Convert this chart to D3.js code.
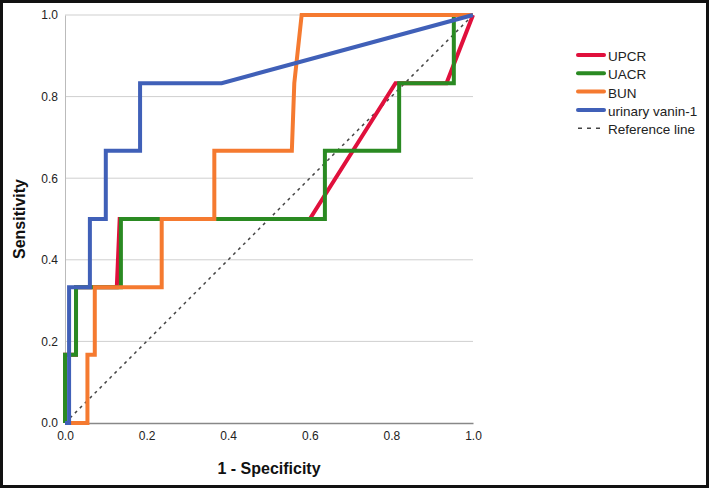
<!DOCTYPE html>
<html><head><meta charset="utf-8">
<script src="https://cdn.jsdelivr.net/npm/d3@7"></script>
<style>body{margin:0;background:#fff;}svg{display:block;font-family:"Liberation Sans",Arial,sans-serif;}</style>
</head><body>
<svg id="chart" width="709" height="488"></svg>
<script>
const seriesNames = ["UPCR", "UACR", "BUN", "urinary vanin-1"];
const seriesColors = ["#e0103c", "#2a8a22", "#f57a30", "#4060b8"];
const upcr = [[0,0],[0,0.167],[0.027,0.167],[0.027,0.333],[0.127,0.333],[0.134,0.5],[0.6,0.5],[0.81,0.833],[0.935,0.833],[1,1]];
const uacr = [[0,0],[0,0.167],[0.027,0.167],[0.027,0.333],[0.137,0.333],[0.137,0.5],[0.637,0.5],[0.637,0.667],[0.819,0.667],[0.819,0.833],[0.953,0.833],[0.953,1],[1,1]];
const bun = [[0,0],[0.055,0],[0.055,0.167],[0.073,0.167],[0.073,0.333],[0.237,0.333],[0.237,0.5],[0.366,0.5],[0.366,0.667],[0.556,0.667],[0.562,0.833],[0.58,1],[1,1]];
const vanin = [[0,0],[0.01,0],[0.01,0.333],[0.061,0.333],[0.061,0.5],[0.1,0.5],[0.1,0.667],[0.184,0.667],[0.184,0.833],[0.384,0.833],[1,1]];
const referenceLine = [[0,0],[1,1]];
const tickValues = [0, 0.2, 0.4, 0.6, 0.8, 1.0];
const tickLabels = ["0.0","0.2","0.4","0.6","0.8","1.0"];
const xTitle = "1 - Specificity";
const yTitle = "Sensitivity";
const refName = "Reference line";

const svg = d3.select("#chart");
const m = {left:65, top:15, right:473, bottom:423};
const x = d3.scaleLinear().domain([0,1]).range([m.left, m.right]);
const y = d3.scaleLinear().domain([0,1]).range([m.bottom, m.top]);

// outer border
svg.append("rect").attr("x",1.5).attr("y",1.5).attr("width",706).attr("height",485)
  .attr("fill","#fff").attr("stroke","#111").attr("stroke-width",3);

// gridlines
svg.append("g").selectAll("line").data(tickValues.slice(1)).join("line")
  .attr("x1",x(0)).attr("x2",x(1)).attr("y1",d=>y(d)).attr("y2",d=>y(d))
  .attr("stroke","#cfcfcf").attr("stroke-width",1);

// axes
const xAxis = svg.append("g").attr("transform",`translate(0,${y(0)})`)
  .call(d3.axisBottom(x).tickValues(tickValues).tickFormat((d,i)=>tickLabels[i]).tickSize(0).tickPadding(8));
xAxis.select(".domain").attr("stroke","#888").attr("stroke-width",1.5);
xAxis.selectAll("text").attr("font-size",12).attr("fill","#222").attr("font-family","Liberation Sans, Arial, sans-serif");
const yAxis = svg.append("g").attr("transform",`translate(${x(0)},0)`)
  .call(d3.axisLeft(y).tickValues(tickValues).tickFormat((d,i)=>tickLabels[i]).tickSize(0).tickPadding(7));
yAxis.select(".domain").attr("stroke","#bbb").attr("stroke-width",1);
yAxis.selectAll("text").attr("font-size",12).attr("fill","#222").attr("font-family","Liberation Sans, Arial, sans-serif");

// titles
svg.append("text").attr("x",(x(0)+x(1))/2).attr("y",474).attr("text-anchor","middle")
  .attr("font-size",16).attr("font-weight","bold").attr("fill","#111").text(xTitle);
svg.append("text").attr("transform",`translate(25,${(y(0)+y(1))/2}) rotate(-90)`).attr("text-anchor","middle")
  .attr("font-size",16).attr("font-weight","bold").attr("fill","#111").text(yTitle);

// reference line
const line = d3.line().x(d=>x(d[0])).y(d=>y(d[1]));
svg.append("path").attr("d",line(referenceLine)).attr("fill","none")
  .attr("stroke","#444").attr("stroke-width",1.5).attr("stroke-dasharray","3,4");

// curves
const allSeries = [upcr, uacr, bun, vanin];
allSeries.forEach((s,i)=>{
  svg.append("path").attr("d",line(s)).attr("fill","none")
    .attr("stroke",seriesColors[i]).attr("stroke-width",4).attr("stroke-linejoin","miter");
});

// legend
const lg = svg.append("g").attr("transform","translate(577,55)");
seriesNames.forEach((n,i)=>{
  const g = lg.append("g").attr("transform",`translate(0,${i*18.3})`);
  g.append("line").attr("x1",1).attr("x2",27).attr("y1",0).attr("y2",0)
    .attr("stroke",seriesColors[i]).attr("stroke-width",4).attr("stroke-linecap","round");
  g.append("text").attr("x",31).attr("y",6).attr("font-size",13.5).attr("fill","#222").text(n);
});
const rg = lg.append("g").attr("transform",`translate(0,${4*18.3})`);
rg.append("line").attr("x1",1).attr("x2",27).attr("y1",0).attr("y2",0)
  .attr("stroke","#444").attr("stroke-width",1.5).attr("stroke-dasharray","4,5");
rg.append("text").attr("x",31).attr("y",6).attr("font-size",13.5).attr("fill","#222").text(refName);
</script>
</body></html>
